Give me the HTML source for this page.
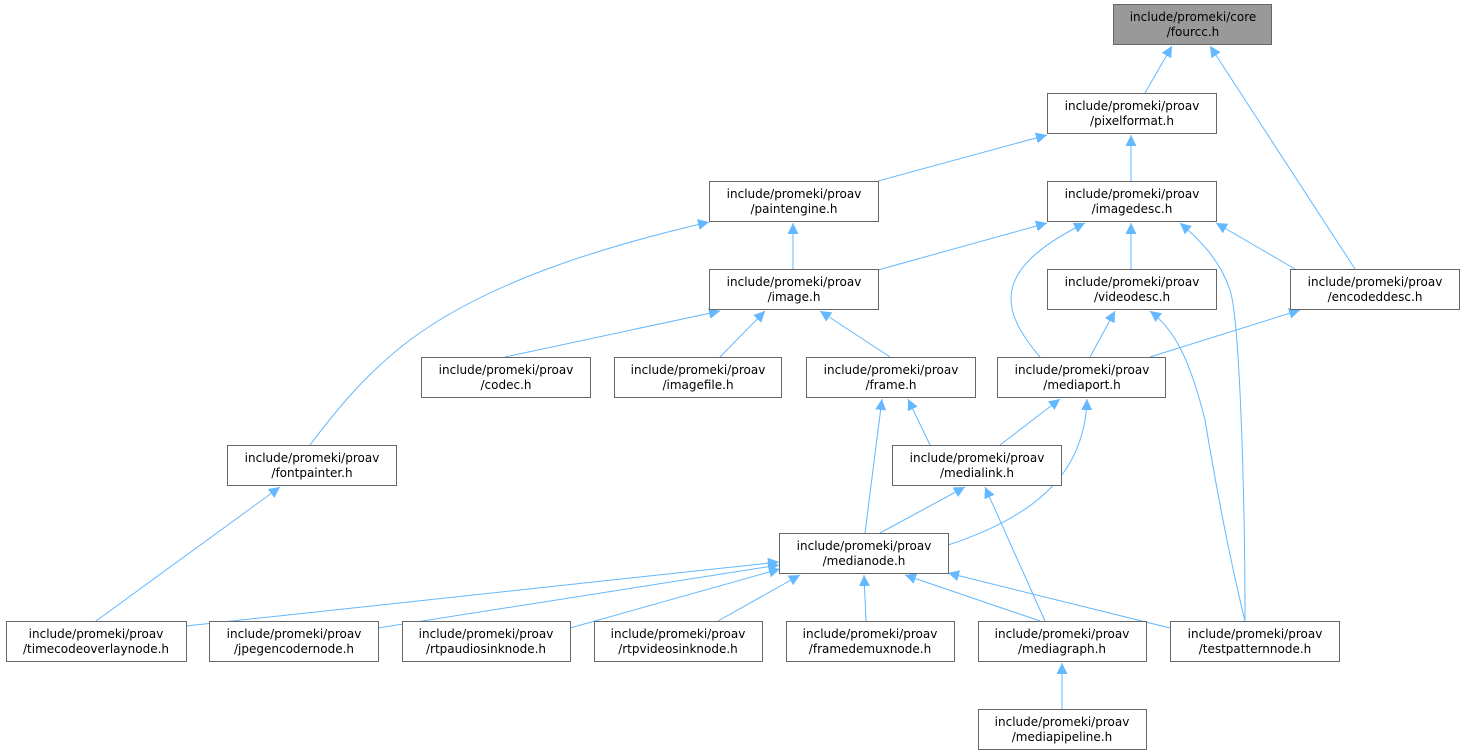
<!DOCTYPE html>
<html><head><meta charset="utf-8"><style>
html,body{margin:0;padding:0;background:#fff;width:1465px;height:755px;overflow:hidden}
svg text{font-family:"DejaVu Sans","Liberation Sans",sans-serif;font-size:12px;fill:#000}
</style></head><body>
<svg width="1465" height="755" viewBox="0 0 1465 755" xmlns="http://www.w3.org/2000/svg">
<defs><marker id="a" viewBox="0 0 10 10" refX="10" refY="5" markerWidth="11" markerHeight="11" markerUnits="userSpaceOnUse" orient="auto"><path d="M0,0 L10,5 L0,10 z" fill="#63b8ff"/></marker></defs>
<g fill="none" stroke="#63b8ff" stroke-width="1" marker-end="url(#a)">
<path d="M1145,93 L1172,46"/>
<path d="M1355,269 L1210,46"/>
<path d="M878,181 L1047,135"/>
<path d="M1131,181 L1131,135"/>
<path d="M793,269 L793,223"/>
<path d="M310,445 C340,405 370,370 410,340 C490,280 610,245 709,222"/>
<path d="M878,270 L1047,223"/>
<path d="M1131,269 L1131,223"/>
<path d="M1295,269 L1216,223"/>
<path d="M1040,357 C1000,310 990,270 1085,223"/>
<path d="M1245,621 C1245,500 1240,320 1230,290 C1220,260 1200,240 1180,223"/>
<path d="M505,357 L720,311"/>
<path d="M720,357 L765,311"/>
<path d="M890,357 L820,311"/>
<path d="M1090,357 L1115,311"/>
<path d="M1150,357 L1300,310"/>
<path d="M1245,621 C1230,560 1215,480 1205,420 C1190,360 1175,330 1150,311"/>
<path d="M1000,445 L1060,399"/>
<path d="M948,545 C1040,515 1085,470 1087,399"/>
<path d="M930,445 L908,399"/>
<path d="M865,533 L882,399"/>
<path d="M880,533 L965,487"/>
<path d="M1045,621 L985,487"/>
<path d="M96,621 L280,487"/>
<path d="M186,626 L779,562"/>
<path d="M378,628 L779,565"/>
<path d="M570,628 L780,569"/>
<path d="M718,621 L800,575"/>
<path d="M866,621 L864,575"/>
<path d="M1040,621 L905,575"/>
<path d="M1170,628 L948,573"/>
<path d="M1062,709 L1062,663"/>
</g>
<g stroke="#666" stroke-width="1" fill="#fff">
<rect x="1113.5" y="4.5" width="158" height="40" fill="#999"/>
<rect x="1047.5" y="93.5" width="169" height="40"/>
<rect x="709.5" y="181.5" width="169" height="40"/>
<rect x="1047.5" y="181.5" width="169" height="40"/>
<rect x="709.5" y="269.5" width="169" height="40"/>
<rect x="1047.5" y="269.5" width="169" height="40"/>
<rect x="1290.5" y="269.5" width="169" height="40"/>
<rect x="421.5" y="357.5" width="169" height="40"/>
<rect x="614.5" y="357.5" width="167" height="40"/>
<rect x="806.5" y="357.5" width="169" height="40"/>
<rect x="997.5" y="357.5" width="168" height="40"/>
<rect x="227.5" y="445.5" width="169" height="40"/>
<rect x="892.5" y="445.5" width="169" height="40"/>
<rect x="779.5" y="533.5" width="169" height="40"/>
<rect x="6.5" y="621.5" width="180" height="40"/>
<rect x="209.5" y="621.5" width="169" height="40"/>
<rect x="402.5" y="621.5" width="168" height="40"/>
<rect x="594.5" y="621.5" width="168" height="40"/>
<rect x="786.5" y="621.5" width="168" height="40"/>
<rect x="978.5" y="621.5" width="168" height="40"/>
<rect x="1170.5" y="621.5" width="169" height="40"/>
<rect x="978.5" y="709.5" width="168" height="40"/>
</g>
<g text-anchor="middle">
<text x="1193" y="21">include/promeki/core</text><text x="1193" y="36">/fourcc.h</text>
<text x="1132" y="110">include/promeki/proav</text><text x="1132" y="125">/pixelformat.h</text>
<text x="794" y="198">include/promeki/proav</text><text x="794" y="213">/paintengine.h</text>
<text x="1132" y="198">include/promeki/proav</text><text x="1132" y="213">/imagedesc.h</text>
<text x="794" y="286">include/promeki/proav</text><text x="794" y="301">/image.h</text>
<text x="1132" y="286">include/promeki/proav</text><text x="1132" y="301">/videodesc.h</text>
<text x="1375" y="286">include/promeki/proav</text><text x="1375" y="301">/encodeddesc.h</text>
<text x="506" y="374">include/promeki/proav</text><text x="506" y="389">/codec.h</text>
<text x="698" y="374">include/promeki/proav</text><text x="698" y="389">/imagefile.h</text>
<text x="891" y="374">include/promeki/proav</text><text x="891" y="389">/frame.h</text>
<text x="1082" y="374">include/promeki/proav</text><text x="1082" y="389">/mediaport.h</text>
<text x="312" y="462">include/promeki/proav</text><text x="312" y="477">/fontpainter.h</text>
<text x="977" y="462">include/promeki/proav</text><text x="977" y="477">/medialink.h</text>
<text x="864" y="550">include/promeki/proav</text><text x="864" y="565">/medianode.h</text>
<text x="96" y="638">include/promeki/proav</text><text x="96" y="653">/timecodeoverlaynode.h</text>
<text x="294" y="638">include/promeki/proav</text><text x="294" y="653">/jpegencodernode.h</text>
<text x="486" y="638">include/promeki/proav</text><text x="486" y="653">/rtpaudiosinknode.h</text>
<text x="678" y="638">include/promeki/proav</text><text x="678" y="653">/rtpvideosinknode.h</text>
<text x="870" y="638">include/promeki/proav</text><text x="870" y="653">/framedemuxnode.h</text>
<text x="1062" y="638">include/promeki/proav</text><text x="1062" y="653">/mediagraph.h</text>
<text x="1255" y="638">include/promeki/proav</text><text x="1255" y="653">/testpatternnode.h</text>
<text x="1062" y="726">include/promeki/proav</text><text x="1062" y="741">/mediapipeline.h</text>
</g>
</svg>
</body></html>
